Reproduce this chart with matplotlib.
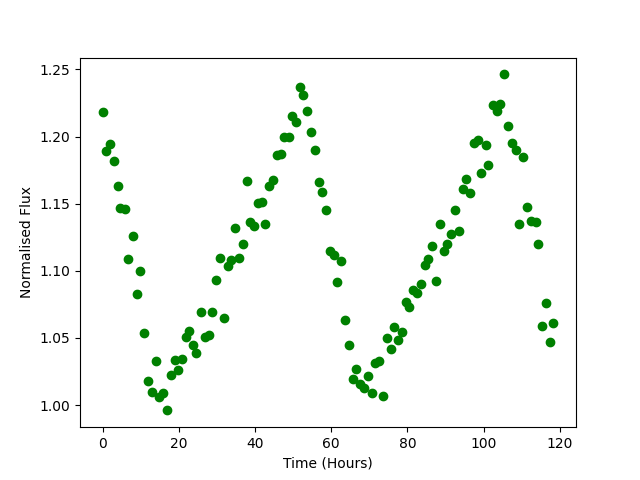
import numpy as np
import matplotlib
matplotlib.use('Agg')
import matplotlib.pyplot as plt

# light curve
time = [0.0, 0.8, 1.9, 2.9, 4.0, 4.7, 5.9, 6.8, 7.9, 9.0,
        9.7, 10.9, 11.9, 12.9, 14.0, 14.7, 15.9, 16.9, 17.9, 18.9,
        19.8, 20.9, 21.8, 22.8, 23.7, 24.6, 25.7, 26.8, 27.9, 28.7,
        29.8, 30.8, 31.8, 32.9, 33.7, 34.7, 35.8, 36.8, 37.9, 38.7,
        39.7, 40.8, 41.9, 42.6, 43.7, 44.8, 45.8, 46.8, 47.6, 48.8,
        49.8, 50.7, 51.8, 52.6, 53.7, 54.6, 55.7, 56.8, 57.6, 58.6,
        59.7, 60.7, 61.5, 62.6, 63.6, 64.7, 65.6, 66.5, 67.5, 68.5,
        69.7, 70.7, 71.4, 72.5, 73.6, 74.7, 75.7, 76.5, 77.4, 78.6,
        79.6, 80.4, 81.4, 82.5, 83.6, 84.5, 85.5, 86.5, 87.5, 88.5,
        89.5, 90.4, 91.5, 92.5, 93.6, 94.5, 95.4, 96.5, 97.4, 98.6,
        99.3, 100.5, 101.2, 102.5, 103.5, 104.4, 105.3, 106.4, 107.5, 108.5,
        109.3, 110.3, 111.4, 112.5, 113.6, 114.3, 115.4, 116.4, 117.4, 118.3]

flux = [1.218, 1.189, 1.1947, 1.1815, 1.163, 1.147, 1.146, 1.109, 1.126, 1.0826,
        1.100, 1.054, 1.018, 1.0094, 1.0325, 1.0057, 1.0087, 0.996, 1.022, 1.0335,
        1.0258, 1.034, 1.0508, 1.055, 1.045, 1.0385, 1.069, 1.0508, 1.0519, 1.069,
        1.0935, 1.1099, 1.0647, 1.1036, 1.1079, 1.1322, 1.1099, 1.1203, 1.1671, 1.1367,
        1.1337, 1.1505, 1.1515, 1.1351, 1.1634, 1.1674, 1.1862, 1.1872, 1.1999, 1.1999,
        1.215, 1.2106, 1.2368, 1.2311, 1.2188, 1.2031, 1.1897, 1.1664, 1.159, 1.1456,
        1.1146, 1.1121, 1.0915, 1.1071, 1.0632, 1.0446, 1.0191, 1.0265, 1.0156, 1.0124,
        1.0216, 1.0087, 1.0315, 1.033, 1.0065, 1.0496, 1.0417, 1.0578, 1.0484, 1.0541,
        1.0764, 1.0727, 1.086, 1.0838, 1.0905, 1.1046, 1.1086, 1.1188, 1.0923, 1.1349,
        1.1148, 1.1198, 1.1277, 1.1456, 1.13, 1.1607, 1.1682, 1.1582, 1.1955, 1.1972,
        1.1731, 1.1937, 1.1791, 1.2232, 1.219, 1.224, 1.2463, 1.2076, 1.195, 1.1897,
        1.1347, 1.185, 1.1473, 1.1371, 1.1364, 1.1198, 1.0592, 1.0757, 1.0467, 1.0608]

fig = plt.figure(figsize=(6.4, 4.8), dpi=100)
plt.plot(time, flux, 'go')
plt.xlabel('Time (Hours)')
plt.ylabel('Normalised Flux')
plt.savefig('out.png')
